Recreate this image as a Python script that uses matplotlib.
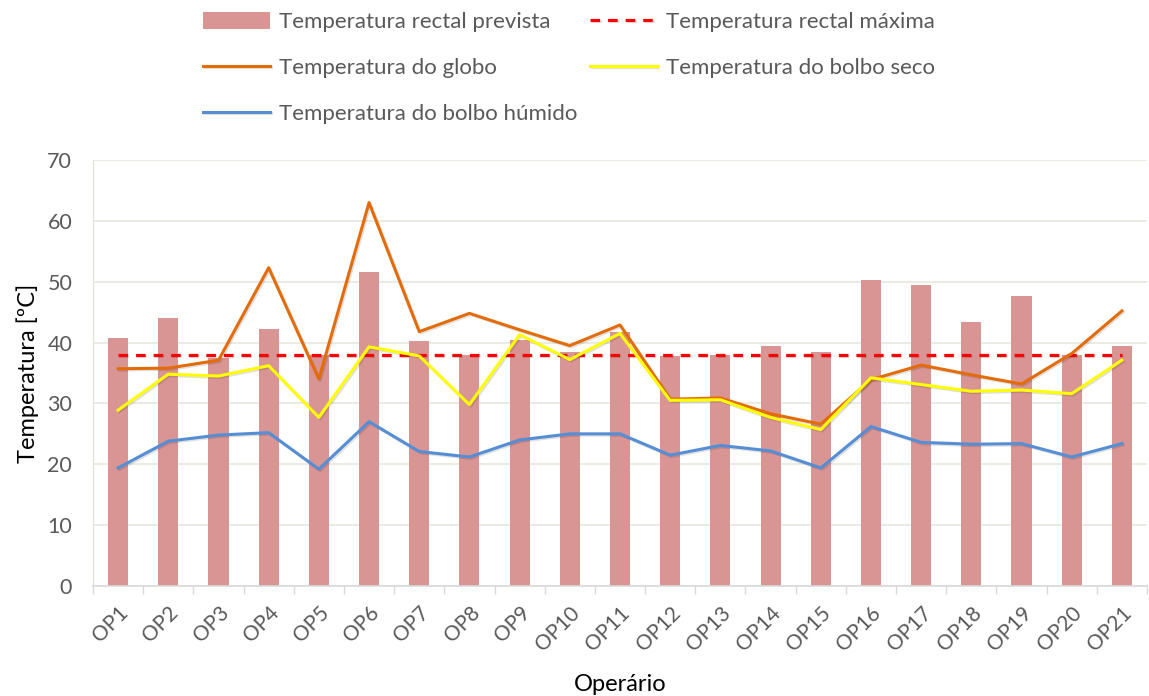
import numpy as np
import matplotlib.pyplot as plt
import matplotlib.patheffects as pe

plt.rcParams['font.family'] = ['Lato', 'DejaVu Sans']

operarios = ['OP%d' % i for i in range(1, 22)]
rectal_prevista = [40.7, 44.0, 37.5, 42.3, 38.0, 51.6, 40.3, 38.0, 40.4, 38.5, 41.8,
                   37.8, 38.0, 39.5, 38.4, 50.3, 49.5, 43.3, 47.6, 38.0, 39.4]
rectal_maxima = [38.0] * 21
globo = [35.7, 35.8, 37.1, 52.3, 34.0, 63.0, 41.8, 44.8, 42.1, 39.5, 42.9,
         30.7, 30.9, 28.3, 26.6, 33.9, 36.3, 34.7, 33.2, 38.2, 45.2]
bolbo_seco = [28.9, 34.8, 34.5, 36.2, 27.7, 39.3, 37.8, 29.8, 41.3, 37.2, 41.5,
              30.5, 30.6, 27.7, 25.7, 34.2, 33.1, 32.0, 32.2, 31.6, 37.1]
bolbo_humido = [19.4, 23.8, 24.8, 25.2, 19.2, 27.0, 22.1, 21.2, 24.0, 25.0, 25.0,
                21.5, 23.1, 22.2, 19.4, 26.2, 23.6, 23.3, 23.4, 21.2, 23.4]

cinza = '#595959'
x = np.arange(len(operarios))

fig = plt.figure(figsize=(11.49, 6.96), dpi=100)
ax = fig.add_axes([93 / 1149, 1 - 586 / 696, 1054 / 1149, 426 / 696])

sombra = [pe.SimpleLineShadow(offset=(1, -1), alpha=0.12), pe.Normal()]

barras = ax.bar(x, rectal_prevista, width=0.4, color='#D99594', zorder=2,
                label='Temperatura rectal prevista')
l_max, = ax.plot(x, rectal_maxima, color='#FF0000', lw=2.3, ls=(0, (3, 2.5)),
                 zorder=3, label='Temperatura rectal máxima', path_effects=sombra)
l_glo, = ax.plot(x, globo, color='#E36C09', lw=2.2, zorder=3,
                 label='Temperatura do globo', path_effects=sombra)
l_sec, = ax.plot(x, bolbo_seco, color='#FFFF00', lw=2.2, zorder=4,
                 label='Temperatura do bolbo seco', path_effects=sombra)
l_hum, = ax.plot(x, bolbo_humido, color='#558ED5', lw=2.2, zorder=3,
                 label='Temperatura do bolbo húmido', path_effects=sombra)

ax.set_xlim(-0.5, len(operarios) - 0.5)
ax.set_ylim(0, 70)
ax.set_yticks(range(0, 71, 10))
ax.yaxis.grid(True, color='#E8E6DE', lw=1.2, zorder=0)
ax.set_axisbelow(True)

ax.set_xticks(x)
ax.set_xticklabels(operarios, rotation=45, ha='right', rotation_mode='anchor',
                   color=cinza, fontsize=15)
ax.set_xticks(np.arange(-0.5, len(operarios), 1), minor=True)
ax.tick_params(axis='x', which='major', length=0, pad=12)
ax.tick_params(axis='x', which='minor', length=6, color='#D9D9D9', width=1)
ax.tick_params(axis='y', length=0, labelsize=15.5, labelcolor=cinza, pad=15)

for lado in ['top', 'right']:
    ax.spines[lado].set_visible(False)
ax.spines['left'].set_color('#E0DED6')
ax.spines['bottom'].set_color('#D9D9D9')
ax.spines['bottom'].set_linewidth(1.2)

ax.set_ylabel('Temperatura [ºC]', fontsize=17, labelpad=6)
ax.set_xlabel('Operário', fontsize=17, labelpad=14)

ordem = [barras, l_glo, l_hum, l_max, l_sec]
fig.legend(ordem, [h.get_label() for h in ordem],
           ncol=2, loc='upper left', bbox_to_anchor=(203 / 1149, 1 - 12 / 696),
           frameon=False, fontsize=16, labelcolor=cinza,
           borderaxespad=0, borderpad=0,
           handlelength=3.0, handleheight=0.8, handletextpad=0.4,
           columnspacing=0.6, labelspacing=1.15)

fig.savefig('out.png', dpi=100)
